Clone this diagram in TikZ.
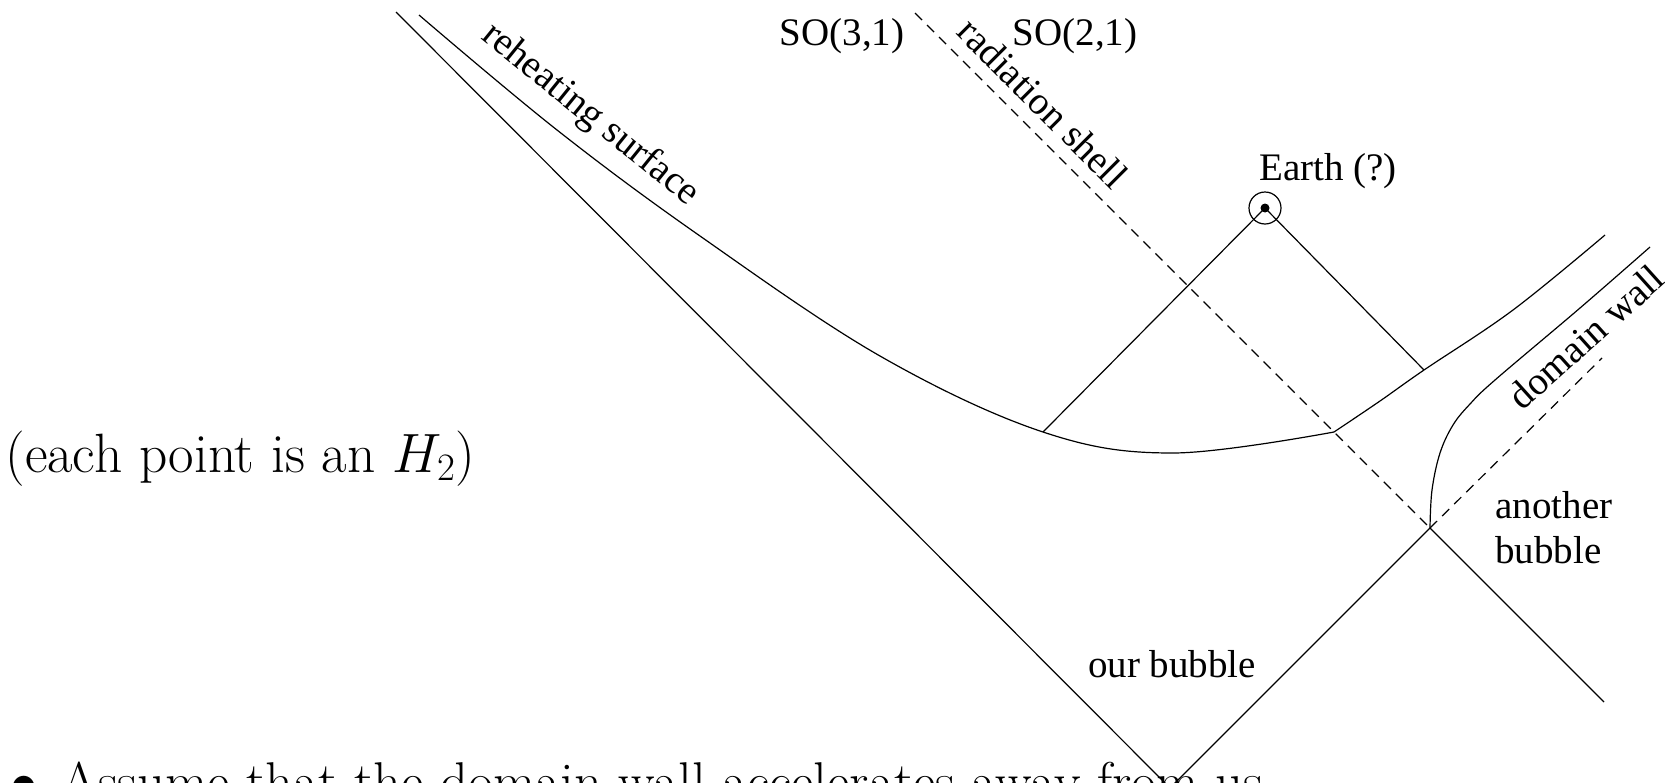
\RequirePackage{fix-cm}
\documentclass[tikz,border=0pt]{standalone}
\usepackage{fontspec}
\newfontfamily\tms{Liberation Serif}
\begin{document}
\begin{tikzpicture}[x=0.5pt,y=-0.5pt,
  ln/.style={line width=0.6pt},
  dsh/.style={line width=0.6pt, dash pattern=on 5pt off 3.5pt},
  lbl/.style={font=\tms\fontsize{19.5}{23}\selectfont, inner sep=0pt},
  txt/.style={font=\fontsize{27.3}{33}\selectfont, inner sep=0pt}]
\useasboundingbox (0,0) rectangle (1665,782);
% key points
\coordinate (LT) at (396,12);
\coordinate (V) at (1170,788);
\coordinate (P) at (1430,528);
\coordinate (RT) at (915,13);
\coordinate (RB) at (1604,702);
\coordinate (DT) at (1602,358);
\coordinate (E) at (1265,208);
\coordinate (EL) at (1043,432);
\coordinate (ER) at (1424,370);
\coordinate (C) at (1334,432);
% light cone of our bubble
\draw[ln] (LT) -- (V) -- (P);
\draw[dsh] (P) -- (DT);
% radiation shell
\draw[dsh] (RT) -- (P);
\draw[ln] (P) -- (RB);
% reheating surface
\draw[ln] plot[smooth, tension=0.6] coordinates {(419,15) (557,130) (700,236) (880,356) (1043,432) (1173,453) (1334,432)};
\draw[ln] plot[smooth, tension=0.6] coordinates {(1334,432) (1380,401) (1424,370) (1513,310) (1605,235)};
% domain wall
\draw[ln] plot[smooth, tension=0.6] coordinates {(1430,528) (1432,490) (1440,453) (1453,425) (1470,404) (1495,380) (1580,308) (1650,247)};
% Earth
\draw[ln] (E) circle[radius=16];
\fill (E) circle[radius=4.5];
\draw[ln] (E) -- (EL);
\draw[ln] (E) -- (ER);
% labels
\node[lbl] (so31) at (842,36) {SO(3,1)};
\node[lbl] (so21) at (1075,36) {SO(2,1)};
\node[lbl, rotate=-45] (rad) at (1043,103) {radiation shell};
\node[lbl, rotate=-39] (reh) at (590,115) {reheating surface};
\node[lbl] (earth) at (1328,171) {Earth (?)};
\node[lbl, rotate=42] (dw) at (1586,337) {domain wall};
\node[lbl] (ob) at (1172,664) {our bubble};
\node[lbl, anchor=base west] (ab1) at (1495,518) {another};
\node[lbl, anchor=base west] (ab2) at (1495,563) {bubble};
\node[txt, anchor=base west, font=\fontsize{27.7}{33}\selectfont] (each) at (5,472) {(each point is an $H_2$)};
\node[txt, anchor=base west] (bul) at (10,800) {$\bullet$\hspace{11.4pt}Assume that the domain wall accelerates away from us};
\end{tikzpicture}
\end{document}
